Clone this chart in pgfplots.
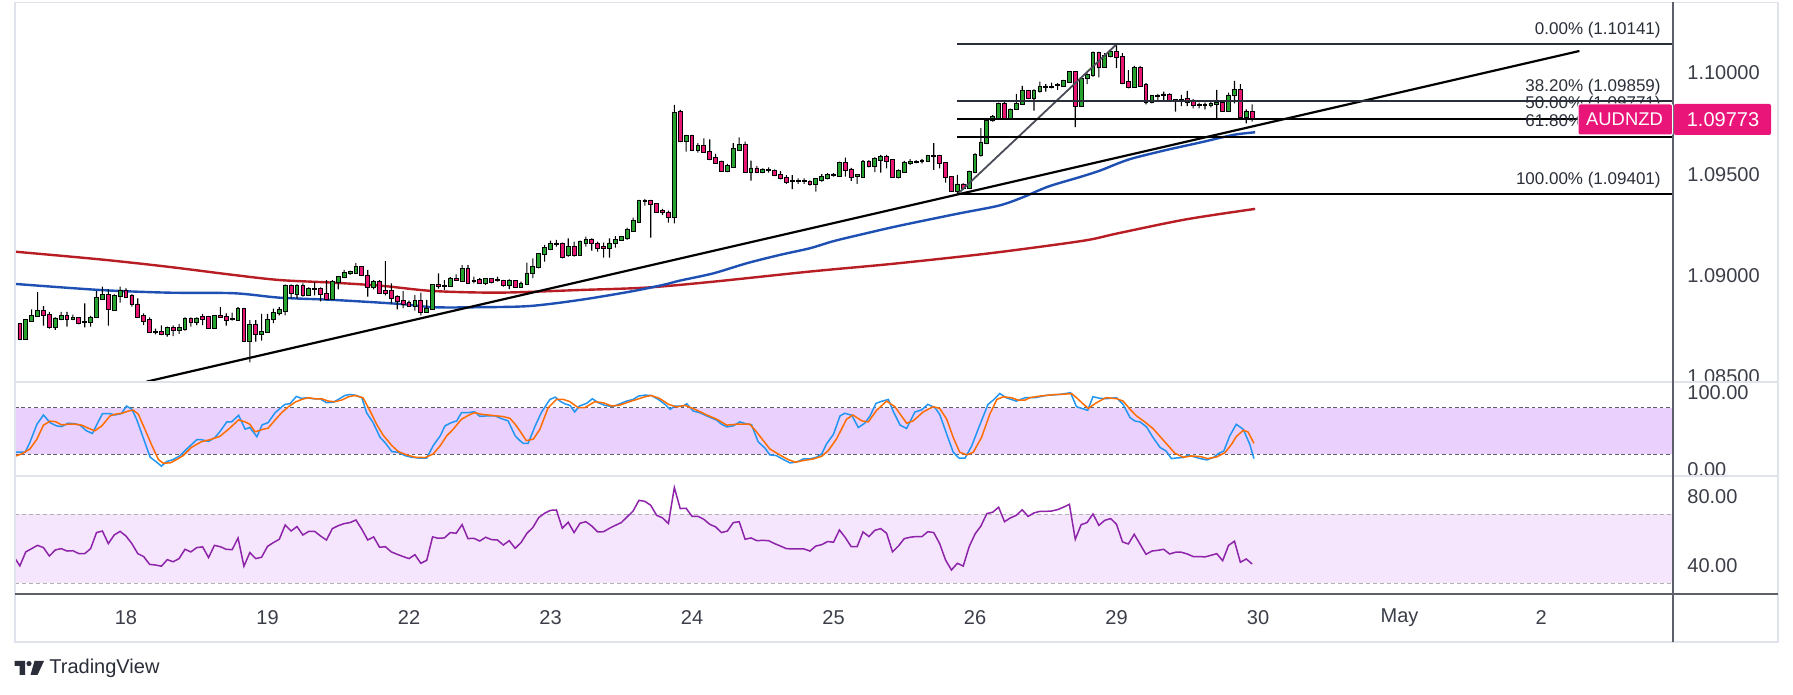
\documentclass[border=0pt]{standalone}
\usepackage{pgfplots}
\pgfplotsset{compat=1.18}
\usepackage{pgfplotstable}
\usepackage{fontspec}
\setmainfont{Liberation Sans}
\definecolor{cgreen}{HTML}{26A32E}
\definecolor{cpink}{HTML}{E91572}
\definecolor{mablue}{HTML}{1E50B4}
\definecolor{mared}{HTML}{B81D24}
\definecolor{stk}{HTML}{2196F3}
\definecolor{std}{HTML}{FF6D00}
\definecolor{rsic}{HTML}{8E24AA}
\definecolor{stband}{HTML}{EAD0FC}
\definecolor{rsiband}{HTML}{F5E6FD}
\definecolor{fibdark}{HTML}{2A2E39}
\definecolor{lbl}{HTML}{3B3E48}
\definecolor{sepc}{HTML}{E0E3EB}
\definecolor{scaleline}{HTML}{5D606B}
\definecolor{lastpx}{HTML}{EA1579}

\pgfplotstableread{
h O H L C
-18 1.08760 1.08765 1.08686 1.08686
-17 1.08686 1.08781 1.08686 1.08781
-16 1.08778 1.08834 1.08773 1.08801
-15 1.08801 1.08919 1.08798 1.08826
-14 1.08826 1.08850 1.08753 1.08804
-13 1.08804 1.08821 1.08738 1.08748
-12 1.08748 1.08794 1.08732 1.08789
-11 1.08788 1.08821 1.08781 1.08799
-10 1.08799 1.08821 1.08748 1.08784
-9 1.08786 1.08807 1.08781 1.08791
-8 1.08791 1.08794 1.08760 1.08768
-7 1.08770 1.08863 1.08745 1.08771
-6 1.08771 1.08801 1.08748 1.08794
-5 1.08794 1.08924 1.08794 1.08888
-4 1.08886 1.08946 1.08880 1.08903
-3 1.08903 1.08932 1.08753 1.08834
-2 1.08830 1.08908 1.08826 1.08900
-1 1.08900 1.08946 1.08867 1.08924
0 1.08924 1.08937 1.08896 1.08896
1 1.08900 1.08909 1.08847 1.08858
2 1.08858 1.08888 1.08798 1.08798
3 1.08801 1.08814 1.08756 1.08778
4 1.08781 1.08794 1.08724 1.08724
5 1.08724 1.08738 1.08710 1.08722
6 1.08722 1.08755 1.08706 1.08710
7 1.08710 1.08748 1.08699 1.08742
8 1.08742 1.08755 1.08702 1.08729
9 1.08729 1.08762 1.08712 1.08742
10 1.08736 1.08794 1.08729 1.08786
11 1.08786 1.08794 1.08748 1.08773
12 1.08773 1.08794 1.08756 1.08789
13 1.08798 1.08811 1.08756 1.08786
14 1.08798 1.08801 1.08743 1.08743
15 1.08743 1.08801 1.08743 1.08799
16 1.08799 1.08844 1.08794 1.08794
17 1.08796 1.08814 1.08753 1.08783
18 1.08786 1.08817 1.08778 1.08784
19 1.08781 1.08844 1.08778 1.08834
20 1.08834 1.08837 1.08679 1.08679
21 1.08679 1.08781 1.08572 1.08755
22 1.08755 1.08781 1.08674 1.08712
23 1.08710 1.08811 1.08679 1.08722
24 1.08722 1.08811 1.08719 1.08784
25 1.08784 1.08837 1.08765 1.08814
26 1.08814 1.08844 1.08804 1.08830
27 1.08827 1.08957 1.08804 1.08949
28 1.08949 1.08957 1.08886 1.08913
29 1.08909 1.08957 1.08886 1.08949
30 1.08949 1.08962 1.08896 1.08903
31 1.08903 1.08942 1.08903 1.08934
32 1.08934 1.08969 1.08903 1.08936
33 1.08934 1.08942 1.08873 1.08909
34 1.08909 1.08978 1.08886 1.08886
35 1.08886 1.08978 1.08886 1.08967
36 1.08967 1.08998 1.08932 1.08992
37 1.08992 1.09028 1.08987 1.09015
38 1.09015 1.09024 1.09003 1.09017
39 1.09015 1.09061 1.09011 1.09041
40 1.09041 1.09044 1.08998 1.09001
41 1.09001 1.09028 1.08896 1.08946
42 1.08946 1.08978 1.08932 1.08970
43 1.08970 1.08978 1.08913 1.08913
44 1.08924 1.09072 1.08903 1.08913
45 1.08924 1.08962 1.08863 1.08891
46 1.08893 1.08903 1.08834 1.08876
47 1.08876 1.08924 1.08839 1.08860
48 1.08867 1.08876 1.08847 1.08852
49 1.08852 1.08904 1.08827 1.08873
50 1.08873 1.08916 1.08804 1.08822
51 1.08822 1.08880 1.08822 1.08837
52 1.08837 1.08957 1.08837 1.08954
53 1.08954 1.09011 1.08936 1.08949
54 1.08949 1.08978 1.08929 1.08950
55 1.08949 1.08992 1.08949 1.08982
56 1.08982 1.09006 1.08975 1.08978
57 1.08975 1.09052 1.08970 1.09031
58 1.09031 1.09052 1.08965 1.08965
59 1.08975 1.08995 1.08962 1.08973
60 1.08978 1.08987 1.08959 1.08962
61 1.08962 1.08987 1.08954 1.08982
62 1.08982 1.08987 1.08962 1.08969
63 1.08978 1.08995 1.08970 1.08979
64 1.08972 1.08979 1.08946 1.08951
65 1.08951 1.08982 1.08933 1.08972
66 1.08972 1.08975 1.08943 1.08943
67 1.08943 1.08970 1.08940 1.08959
68 1.08957 1.09064 1.08954 1.09011
69 1.09011 1.09085 1.08987 1.09041
70 1.09041 1.09110 1.09036 1.09107
71 1.09107 1.09151 1.09069 1.09136
72 1.09133 1.09173 1.09126 1.09156
73 1.09157 1.09176 1.09143 1.09159
74 1.09159 1.09163 1.09085 1.09094
75 1.09099 1.09184 1.09094 1.09143
76 1.09143 1.09168 1.09094 1.09099
77 1.09099 1.09173 1.09099 1.09166
78 1.09163 1.09192 1.09143 1.09176
79 1.09176 1.09184 1.09123 1.09159
80 1.09159 1.09168 1.09118 1.09135
81 1.09140 1.09163 1.09089 1.09138
82 1.09138 1.09184 1.09089 1.09159
83 1.09159 1.09195 1.09138 1.09176
84 1.09173 1.09195 1.09173 1.09189
85 1.09186 1.09237 1.09176 1.09225
86 1.09222 1.09286 1.09217 1.09269
87 1.09266 1.09373 1.09266 1.09368
88 1.09368 1.09378 1.09345 1.09370
89 1.09368 1.09373 1.09187 1.09352
90 1.09352 1.09357 1.09315 1.09315
91 1.09317 1.09329 1.09299 1.09315
92 1.09312 1.09321 1.09261 1.09291
93 1.09291 1.09842 1.09258 1.09804
94 1.09807 1.09817 1.09659 1.09664
95 1.09666 1.09694 1.09611 1.09689
96 1.09689 1.09694 1.09620 1.09620
97 1.09620 1.09653 1.09607 1.09639
98 1.09639 1.09677 1.09611 1.09611
99 1.09611 1.09672 1.09570 1.09575
100 1.09579 1.09600 1.09557 1.09557
101 1.09560 1.09567 1.09518 1.09518
102 1.09518 1.09551 1.09511 1.09541
103 1.09537 1.09653 1.09537 1.09623
104 1.09620 1.09682 1.09615 1.09644
105 1.09644 1.09661 1.09513 1.09513
106 1.09513 1.09567 1.09468 1.09529
107 1.09529 1.09541 1.09505 1.09510
108 1.09510 1.09529 1.09505 1.09524
109 1.09520 1.09534 1.09508 1.09519
110 1.09516 1.09524 1.09491 1.09495
111 1.09495 1.09516 1.09475 1.09480
112 1.09480 1.09496 1.09452 1.09462
113 1.09468 1.09496 1.09427 1.09467
114 1.09467 1.09480 1.09452 1.09468
115 1.09468 1.09480 1.09452 1.09467
116 1.09460 1.09470 1.09444 1.09450
117 1.09450 1.09480 1.09414 1.09475
118 1.09470 1.09500 1.09464 1.09488
119 1.09483 1.09505 1.09475 1.09497
120 1.09497 1.09505 1.09488 1.09498
121 1.09493 1.09562 1.09493 1.09557
122 1.09554 1.09582 1.09488 1.09521
123 1.09524 1.09532 1.09467 1.09488
124 1.09490 1.09501 1.09452 1.09497
125 1.09488 1.09570 1.09488 1.09559
126 1.09559 1.09570 1.09534 1.09538
127 1.09538 1.09584 1.09510 1.09574
128 1.09570 1.09595 1.09508 1.09584
129 1.09584 1.09595 1.09529 1.09567
130 1.09570 1.09574 1.09485 1.09488
131 1.09488 1.09524 1.09480 1.09518
132 1.09513 1.09566 1.09513 1.09557
133 1.09554 1.09574 1.09546 1.09562
134 1.09562 1.09570 1.09554 1.09563
135 1.09566 1.09574 1.09554 1.09567
136 1.09567 1.09595 1.09562 1.09590
137 1.09590 1.09653 1.09521 1.09591
138 1.09590 1.09595 1.09529 1.09554
139 1.09554 1.09557 1.09459 1.09485
140 1.09485 1.09488 1.09414 1.09419
141 1.09419 1.09497 1.09401 1.09450
142 1.09450 1.09455 1.09423 1.09431
143 1.09431 1.09518 1.09431 1.09510
144 1.09510 1.09603 1.09505 1.09595
145 1.09595 1.09727 1.09587 1.09653
146 1.09653 1.09771 1.09649 1.09765
147 1.09768 1.09792 1.09760 1.09781
148 1.09778 1.09853 1.09774 1.09847
149 1.09847 1.09866 1.09771 1.09771
150 1.09771 1.09824 1.09771 1.09820
151 1.09820 1.09896 1.09817 1.09845
152 1.09845 1.09936 1.09842 1.09911
153 1.09911 1.09916 1.09871 1.09875
154 1.09875 1.09919 1.09814 1.09911
155 1.09908 1.09957 1.09903 1.09929
156 1.09930 1.09945 1.09908 1.09932
157 1.09932 1.09952 1.09924 1.09933
158 1.09938 1.09949 1.09916 1.09940
159 1.09937 1.09965 1.09932 1.09962
160 1.09957 1.10006 1.09952 1.10003
161 1.10003 1.10006 1.09732 1.09836
162 1.09836 1.09978 1.09836 1.09973
163 1.09973 1.09998 1.09945 1.09990
164 1.09990 1.10105 1.09982 1.10100
165 1.10100 1.10105 1.09978 1.10028
166 1.10028 1.10097 1.10028 1.10083
167 1.10083 1.10116 1.10077 1.10105
168 1.10105 1.10141 1.10023 1.10077
169 1.10077 1.10097 1.09944 1.09952
170 1.09955 1.10014 1.09924 1.09932
171 1.09932 1.10034 1.09929 1.10023
172 1.10023 1.10034 1.09932 1.09937
173 1.09940 1.09949 1.09845 1.09855
174 1.09855 1.09891 1.09850 1.09886
175 1.09886 1.09896 1.09866 1.09888
176 1.09890 1.09908 1.09862 1.09894
177 1.09894 1.09899 1.09858 1.09862
178 1.09864 1.09871 1.09809 1.09866
179 1.09866 1.09891 1.09836 1.09865
180 1.09870 1.09911 1.09836 1.09858
181 1.09862 1.09870 1.09825 1.09840
182 1.09842 1.09853 1.09825 1.09841
183 1.09841 1.09853 1.09820 1.09842
184 1.09843 1.09858 1.09830 1.09845
185 1.09848 1.09916 1.09776 1.09850
186 1.09853 1.09858 1.09814 1.09814
187 1.09814 1.09903 1.09814 1.09889
188 1.09889 1.09960 1.09850 1.09916
189 1.09916 1.09945 1.09784 1.09784
190 1.09784 1.09820 1.09751 1.09806
191 1.09806 1.09845 1.09760 1.09773
}\candles

\pgfplotstableread{
h v
-18.8 22.6
-17.1 22.6
-16.3 35.3
-15.1 58.7
-14.0 70.6
-12.9 60.8
-11.8 56.6
-10.9 55.7
-9.8 60.0
-8.6 59.2
-7.8 57.5
-6.7 50.2
-5.7 46.8
-5.0 57.5
-4.0 72.3
-2.7 72.3
-1.9 70.6
-0.8 72.3
0.1 82.1
1.0 77.9
1.8 65.1
2.9 41.7
4.1 16.2
5.2 9.8
6.0 4.7
6.9 10.6
8.0 13.2
9.2 18.3
10.3 26.8
12.0 38.7
12.8 38.7
14.0 36.6
15.1 41.7
15.9 48.9
17.1 61.7
17.9 61.7
19.1 70.2
20.2 52.3
21.0 54.5
22.2 42.6
23.1 57.9
24.1 60.8
25.3 73.6
26.4 80.9
27.0 84.3
27.8 85.1
28.9 94.5
29.8 91.9
30.6 92.8
31.8 91.5
32.9 91.5
34.0 86.4
35.2 87.2
36.3 91.9
37.1 95.7
38.0 97.0
39.1 95.7
40.0 92.8
40.8 73.6
41.9 60.8
43.1 41.7
43.9 35.3
45.1 23.4
46.2 22.6
47.3 18.3
48.4 16.2
49.9 14.9
51.0 14.9
52.1 31.1
53.3 43.8
54.1 56.6
55.2 60.8
56.1 63.0
56.9 73.6
58.1 73.6
59.1 74.9
60.0 68.9
61.2 69.4
62.6 69.4
63.7 65.9
64.8 63.0
66.0 43.8
66.8 37.5
67.4 34.0
68.2 34.0
69.4 56.6
70.5 74.5
71.9 90.6
72.8 93.6
73.6 88.5
74.4 85.1
75.3 83.0
76.1 74.5
76.9 82.1
78.1 85.5
79.1 91.5
80.1 86.4
81.2 83.0
82.6 81.3
83.8 85.1
84.9 88.5
86.0 90.6
86.9 94.9
88.0 96.2
89.1 95.7
90.3 90.6
91.4 84.3
92.3 77.9
93.1 82.1
94.5 82.1
95.1 85.1
96.2 75.7
97.3 73.6
98.5 69.4
100.2 63.8
101.0 58.7
101.9 55.3
103.0 56.6
104.1 61.7
105.0 59.6
106.1 57.9
107.2 36.2
108.4 27.7
109.2 19.2
110.3 18.3
111.5 13.2
112.6 8.9
113.7 9.8
114.9 14.0
116.0 14.0
117.1 16.2
118.0 20.4
118.8 33.2
120.0 45.9
121.1 69.4
121.9 72.8
123.1 70.2
124.2 54.5
125.3 60.0
126.2 69.4
127.2 85.5
128.1 88.1
129.3 90.6
130.1 75.7
131.3 57.5
132.4 53.2
133.8 74.5
134.9 77.0
136.0 84.3
137.2 80.0
138.0 71.5
139.2 45.9
140.3 22.6
141.3 14.9
142.3 14.9
143.4 30.2
144.8 57.5
146.2 84.3
147.1 89.8
148.2 98.3
149.3 92.8
151.0 88.5
152.5 92.8
154.2 92.9
156.1 95.9
158.4 97.1
160.2 99.3
161.2 81.3
162.1 79.1
163.1 76.6
164.0 94.1
165.2 92.0
166.3 91.6
168.0 92.9
169.1 84.3
170.3 67.1
171.1 62.9
172.0 61.6
173.1 55.1
174.2 41.4
175.4 28.6
176.4 24.3
177.3 14.4
178.2 15.3
179.3 15.7
180.2 19.1
181.0 17.0
182.2 14.4
183.3 12.7
184.4 15.7
185.3 20.9
186.2 24.3
187.2 43.6
188.3 58.6
189.5 52.1
190.6 32.8
191.3 14.4
}\stochK

\pgfplotstableread{
h v
-18.8 17.5
-17.7 20.4
-16.3 26.8
-15.1 39.6
-14.0 57.5
-12.9 62.6
-12.0 62.1
-10.9 57.9
-9.8 58.7
-8.6 58.7
-7.5 57.5
-6.4 53.6
-5.3 50.2
-4.1 56.6
-2.7 69.4
-1.9 71.5
-0.7 72.8
0.4 75.7
1.2 77.0
2.1 71.5
3.2 52.3
4.4 31.1
5.5 13.2
6.3 8.5
7.5 8.9
8.6 13.2
9.7 18.3
11.1 28.9
12.8 36.2
14.2 38.7
15.9 43.0
17.4 52.3
19.1 64.3
20.2 61.7
21.0 58.7
21.9 48.9
23.3 52.3
24.1 53.6
25.3 64.3
26.4 73.6
27.5 80.9
28.7 87.2
29.8 90.6
30.9 92.8
32.1 91.5
33.2 91.5
34.3 88.5
35.4 87.7
36.6 89.8
37.7 94.0
38.8 95.7
40.2 92.8
41.4 75.7
42.5 58.7
43.6 44.7
45.1 31.1
46.2 23.4
47.6 19.2
49.0 16.2
50.7 15.7
52.1 20.4
53.3 31.1
54.4 43.8
55.5 52.3
56.9 65.1
58.1 70.2
59.1 73.6
60.3 71.5
61.4 70.6
62.9 69.4
64.0 68.5
65.1 66.4
66.0 58.7
66.8 50.2
67.9 37.5
69.1 39.6
70.2 52.3
71.6 80.0
73.0 90.6
74.2 90.6
75.3 87.7
76.7 80.0
77.8 80.0
79.5 87.7
80.9 86.4
82.4 82.1
83.8 83.4
85.2 87.2
86.6 90.6
88.0 94.0
89.1 95.7
90.5 91.9
92.0 84.3
93.4 80.9
94.8 83.0
96.5 77.9
98.5 70.6
100.2 65.1
101.9 57.5
103.6 58.7
105.8 58.7
106.9 49.3
108.1 37.5
109.2 26.8
110.6 20.4
112.3 13.2
113.5 9.8
114.9 11.9
116.6 14.0
118.0 17.5
119.1 24.7
120.5 39.6
122.2 65.1
123.3 70.6
124.8 63.0
125.9 61.7
127.3 76.6
129.0 88.5
130.4 81.3
132.4 60.0
133.5 63.0
135.2 74.5
136.9 81.3
138.0 79.1
139.2 65.1
140.3 41.7
141.4 22.6
142.6 19.2
143.7 22.6
145.1 41.7
146.5 71.5
147.7 90.6
148.8 94.0
150.2 92.8
151.3 89.8
152.5 89.8
153.3 92.9
155.0 95.0
157.3 96.7
160.4 98.0
161.2 92.9
162.3 85.1
163.2 79.1
164.6 86.4
166.2 92.9
168.0 91.6
169.1 88.6
170.3 77.9
171.4 69.3
172.8 61.6
174.2 53.0
175.4 42.7
176.8 30.7
177.9 21.3
179.3 16.1
180.7 17.8
182.2 17.0
183.5 14.4
185.0 16.6
186.4 22.1
187.5 32.8
188.3 42.7
189.5 50.9
190.3 48.7
191.3 34.1
}\stochD

\pgfplotstableread{
h v
-18.8 44.3
-18 40.1
-17 48.2
-16 50.1
-15 52.0
-14 50.7
-13 45.8
-12 49.3
-11 50.1
-10 48.7
-9 48.9
-8 47.2
-7 47.2
-6 50.1
-5 59.4
-4 60.3
-3 53.0
-2 58.0
-1 60.1
0 57.4
1 53.0
2 47.2
3 45.5
4 41.0
5 40.6
6 39.9
7 43.7
8 42.5
9 44.3
10 49.7
11 48.2
12 50.7
13 51.1
14 44.9
15 52.0
16 51.2
17 49.7
18 49.5
19 56.3
20 39.9
21 47.8
22 44.3
23 45.1
24 51.4
25 53.6
26 55.5
27 63.8
28 60.3
29 62.9
30 58.0
31 60.1
32 60.1
33 57.4
34 55.1
35 61.7
36 63.4
37 64.6
38 65.2
39 66.7
40 61.3
41 55.1
42 56.9
43 50.9
44 51.2
45 48.2
46 46.8
47 45.5
48 44.3
49 46.6
50 41.6
51 43.3
52 56.9
53 56.1
54 56.3
55 59.4
56 59.0
57 64.0
58 55.9
59 56.1
60 54.5
61 56.7
62 55.3
63 55.1
64 52.2
65 54.7
66 50.3
67 53.6
68 59.0
69 62.3
70 68.1
71 70.6
72 72.3
73 72.5
74 61.9
75 65.4
76 59.4
77 64.8
78 65.7
79 63.2
80 59.8
81 59.9
82 61.9
83 63.6
84 65.2
85 68.5
86 71.9
87 78.1
88 77.5
89 75.2
90 69.4
91 67.9
92 64.6
93 85.5
94 73.3
95 73.5
96 68.8
97 68.8
98 67.1
99 64.2
100 62.7
101 59.4
102 60.3
103 65.2
104 65.7
105 55.5
106 56.3
107 54.7
108 54.9
109 54.7
110 53.0
111 51.6
112 50.1
113 49.9
114 49.9
115 49.9
116 48.7
117 51.6
118 52.4
119 54.2
120 53.8
121 60.9
122 56.5
123 51.2
124 51.2
125 59.8
126 57.1
127 60.7
128 61.7
129 59.0
130 48.2
131 51.6
132 55.9
133 56.7
134 57.1
135 57.1
136 59.9
137 59.4
138 53.0
139 43.5
140 37.7
141 41.6
142 40.0
143 51.2
144 58.6
145 63.2
146 70.4
147 71.2
148 74.1
149 65.7
150 67.9
151 69.4
152 72.6
153 68.8
154 70.8
155 71.7
156 71.7
157 71.9
158 72.7
159 74.1
160 75.8
161 55.5
162 64.0
163 65.2
164 70.2
165 63.6
166 66.5
167 67.5
168 64.2
169 54.0
170 52.8
171 58.4
172 52.6
173 46.8
174 48.7
175 49.1
176 49.7
177 47.0
178 48.0
179 48.0
180 47.0
181 45.5
182 45.5
183 45.3
184 46.2
185 47.2
186 43.1
187 52.0
188 54.4
189 42.2
190 44.1
191 41.2
}\rsi

\pgfplotsset{
  pane/.style={anchor=south west, width=829pt, scale only axis,
    xmin=-18.826, xmax=262.38, axis line style={draw=none},
    xtick=\empty, major tick length=0pt, tick style={draw=none},
    yticklabel pos=right, scaled y ticks=false,
    yticklabel style={anchor=west, xshift=7pt, inner sep=0pt,
      font=\fontsize{10}{12}\selectfont, text=lbl}},
  mainpane/.style={pane, at={(7.5pt,156.5pt)}, height=189.5pt,
    ymin=1.084752, ymax=1.103448},
}

\begin{document}
\begin{tikzpicture}
\useasboundingbox (0,0) rectangle (896.5pt,347.5pt);
\fill[white] (0,0) rectangle (896.5pt,347.5pt);

% ---------- main price pane: scale and moving averages ----------
\begin{axis}[mainpane,
  ytick={1.085,1.09,1.095,1.1},
  y tick label style={/pgf/number format/fixed, /pgf/number format/precision=5,
    /pgf/number format/zerofill, /pgf/number format/assume math mode=true}]
\addplot[mared, line width=1.2pt, smooth, tension=0.5] coordinates {
(-18.8,1.09118) (-4.4,1.09080) (7,1.09044) (18.3,1.09003) (26.1,1.08978)
(35.2,1.08965) (43.6,1.08949) (52.1,1.08924) (63.4,1.08916) (77,1.08929)
(88.3,1.08941) (99.6,1.08970) (116,1.09020) (130,1.09058) (145,1.09105)
(155,1.09142) (163.2,1.09176) (168.3,1.09209) (179.9,1.09278) (191.5,1.09329)};
\addplot[mablue, line width=1.2pt, smooth, tension=0.5] coordinates {
(-18.8,1.08959) (-4.4,1.08929) (7,1.08916) (18.3,1.08913) (26.1,1.08891)
(35.2,1.08880) (46.5,1.08860) (52.1,1.08844) (60,1.08844) (68.5,1.08850)
(77,1.08880) (85.5,1.08921) (91.1,1.08954) (93.9,1.08975) (99.6,1.09011)
(105.3,1.09061) (110.9,1.09102) (116,1.09135) (120,1.09170) (125,1.09205)
(131,1.09245) (141,1.09305) (148,1.09345) (152,1.09385) (156.4,1.09439)
(162,1.09488) (165.2,1.09518) (168.3,1.09554) (170.8,1.09579) (176.5,1.09620)
(182.1,1.09656) (187.8,1.09694) (191.5,1.09707)};
\end{axis}

% ---------- candle wicks (floating bars: low, then high-low) ----------
\begin{axis}[mainpane, ytick=\empty, ybar stacked, bar width=0.55pt]
\addplot[draw=none, fill=none] table[x=h, y=L] {\candles};
\addplot[draw=none, fill=black] table[x=h, y expr={\thisrow{H}-\thisrow{L}}] {\candles};
\end{axis}

% ---------- candle bodies ----------
\begin{axis}[mainpane, ytick=\empty, ybar stacked, bar width=1.9pt]
\addplot[draw=none, fill=none] table[x=h, y expr={min(\thisrow{O},\thisrow{C})-0.00002}] {\candles};
\addplot[fill=cgreen, draw=black, line width=0.45pt]
  table[x=h, y expr={(\thisrow{C}>=\thisrow{O}) ? (\thisrow{C}-\thisrow{O}+0.00004) : 0}] {\candles};
\addplot[fill=cpink, draw=black, line width=0.45pt]
  table[x=h, y expr={(\thisrow{C}<\thisrow{O}) ? (\thisrow{O}-\thisrow{C}+0.00004) : 0}] {\candles};
\end{axis}

% ---------- trend line and fibonacci ----------
\begin{axis}[mainpane, ytick=\empty]
\addplot[black, line width=1.1pt] coordinates {(3.5,1.08477) (246.5,1.10108)};
\addplot[fibdark!85!white, line width=0.9pt] coordinates {(141,1.09401) (168,1.10141)};
\addplot[fibdark, line width=1pt] coordinates {(141,1.10141) (262.38,1.10141)};
\addplot[fibdark, line width=1pt] coordinates {(141,1.09859) (262.38,1.09859)};
\addplot[black, line width=1pt] coordinates {(141,1.09771) (262.38,1.09771)};
\addplot[black, line width=1pt] coordinates {(141,1.09684) (262.38,1.09684)};
\addplot[black, line width=1pt] coordinates {(141,1.09401) (262.38,1.09401)};
\end{axis}

\begin{scope}[x=0.5pt,y=-0.5pt,yshift=347.5pt]
\fill[white] (1674,382.5) rectangle (1777,476);
\end{scope}

% ---------- stochastic pane ----------
\begin{axis}[pane, at={(7.5pt,109.5pt)}, height=47pt,
  ymin=-8, ymax=113.1, ytick={0,100},
  y tick label style={/pgf/number format/fixed, /pgf/number format/precision=2,
    /pgf/number format/zerofill, /pgf/number format/assume math mode=true}]
\fill[stband] (axis cs:-18.826,20) rectangle (axis cs:262.38,80);
\addplot[scaleline, line width=0.5pt, dash pattern=on 1.8pt off 1.4pt] coordinates {(-18.826,80) (262.38,80)};
\addplot[scaleline, line width=0.5pt, dash pattern=on 1.8pt off 1.4pt] coordinates {(-18.826,20) (262.38,20)};
\addplot[stk, line width=0.75pt] table[x=h, y=v] {\stochK};
\addplot[std, line width=0.75pt] table[x=h, y=v] {\stochD};
\end{axis}

% ---------- RSI pane ----------
\begin{axis}[pane, at={(7.5pt,50.5pt)}, height=59pt,
  ymin=23.8, ymax=92.2, ytick={40,80},
  y tick label style={/pgf/number format/fixed, /pgf/number format/precision=2,
    /pgf/number format/zerofill, /pgf/number format/assume math mode=true},
  xtick={0,24,48,72,96,120,144,168,192,216,240},
  xticklabels={18,19,22,23,24,25,26,29,30,May,2},
  xticklabel style={anchor=center, yshift=-12pt, inner sep=0pt,
    font=\fontsize{10}{12}\selectfont, text=lbl}]
\fill[rsiband] (axis cs:-18.826,30) rectangle (axis cs:262.38,70);
\addplot[black!30, line width=0.5pt, dash pattern=on 2pt off 1.5pt] coordinates {(-18.826,70) (262.38,70)};
\addplot[black!30, line width=0.5pt, dash pattern=on 2pt off 1.5pt] coordinates {(-18.826,30) (262.38,30)};
\addplot[rsic, line width=0.75pt] table[x=h, y=v] {\rsi};
\end{axis}

% ---------- frame, labels, logo ----------
\begin{scope}[x=0.5pt,y=-0.5pt,yshift=347.5pt]
\draw[sepc, line width=0.6pt] (15,2.5) rectangle (1778,642);
\draw[sepc, line width=0.6pt] (15,382) -- (1778,382);
\draw[sepc, line width=0.6pt] (15,476) -- (1778,476);
\draw[scaleline, line width=0.6pt] (1673,2.5) -- (1673,642);
\draw[scaleline, line width=0.6pt] (15,594) -- (1778,594);
\begin{scope}[every node/.style={anchor=east, inner sep=0pt, text=fibdark, font=\fontsize{8.5}{10}\selectfont}]
\node at (1661,30) {0.00\% (1.10141)};
\node at (1661,87) {38.20\% (1.09859)};
\node at (1661,104.5) {50.00\% (1.09771)};
\node at (1661,122) {61.80\% (1.09684)};
\node at (1661,180) {100.00\% (1.09401)};
\end{scope}
\fill[lastpx, rounded corners=1pt] (1578,104) rectangle (1672.5,135);
\draw[white, line width=0.5pt, rounded corners=1pt] (1578,104) rectangle (1672.5,135);
\fill[lastpx, rounded corners=1pt] (1674,104) rectangle (1771,135);
\node[text=white, inner sep=0pt, font=\fontsize{9.2}{11}\selectfont] at (1624.5,119.5) {AUDNZD};
\node[text=white, inner sep=0pt, font=\fontsize{10}{12}\selectfont] at (1723,119.5) {1.09773};
% TradingView logo
\fill[fibdark] (14.5,661) -- (25,661) -- (25,675) -- (19.5,675) -- (19.5,666) -- (14.5,666) -- cycle;
\fill[fibdark] (29,663.6) circle[radius=2.6];
\fill[fibdark] (34.5,661) -- (44,661) -- (37.5,675) -- (30.5,675) -- cycle;
\node[anchor=west, inner sep=0pt, text=fibdark, font=\fontsize{10}{12}\selectfont] at (49,668) {TradingView};
\end{scope}
\end{tikzpicture}
\end{document}
